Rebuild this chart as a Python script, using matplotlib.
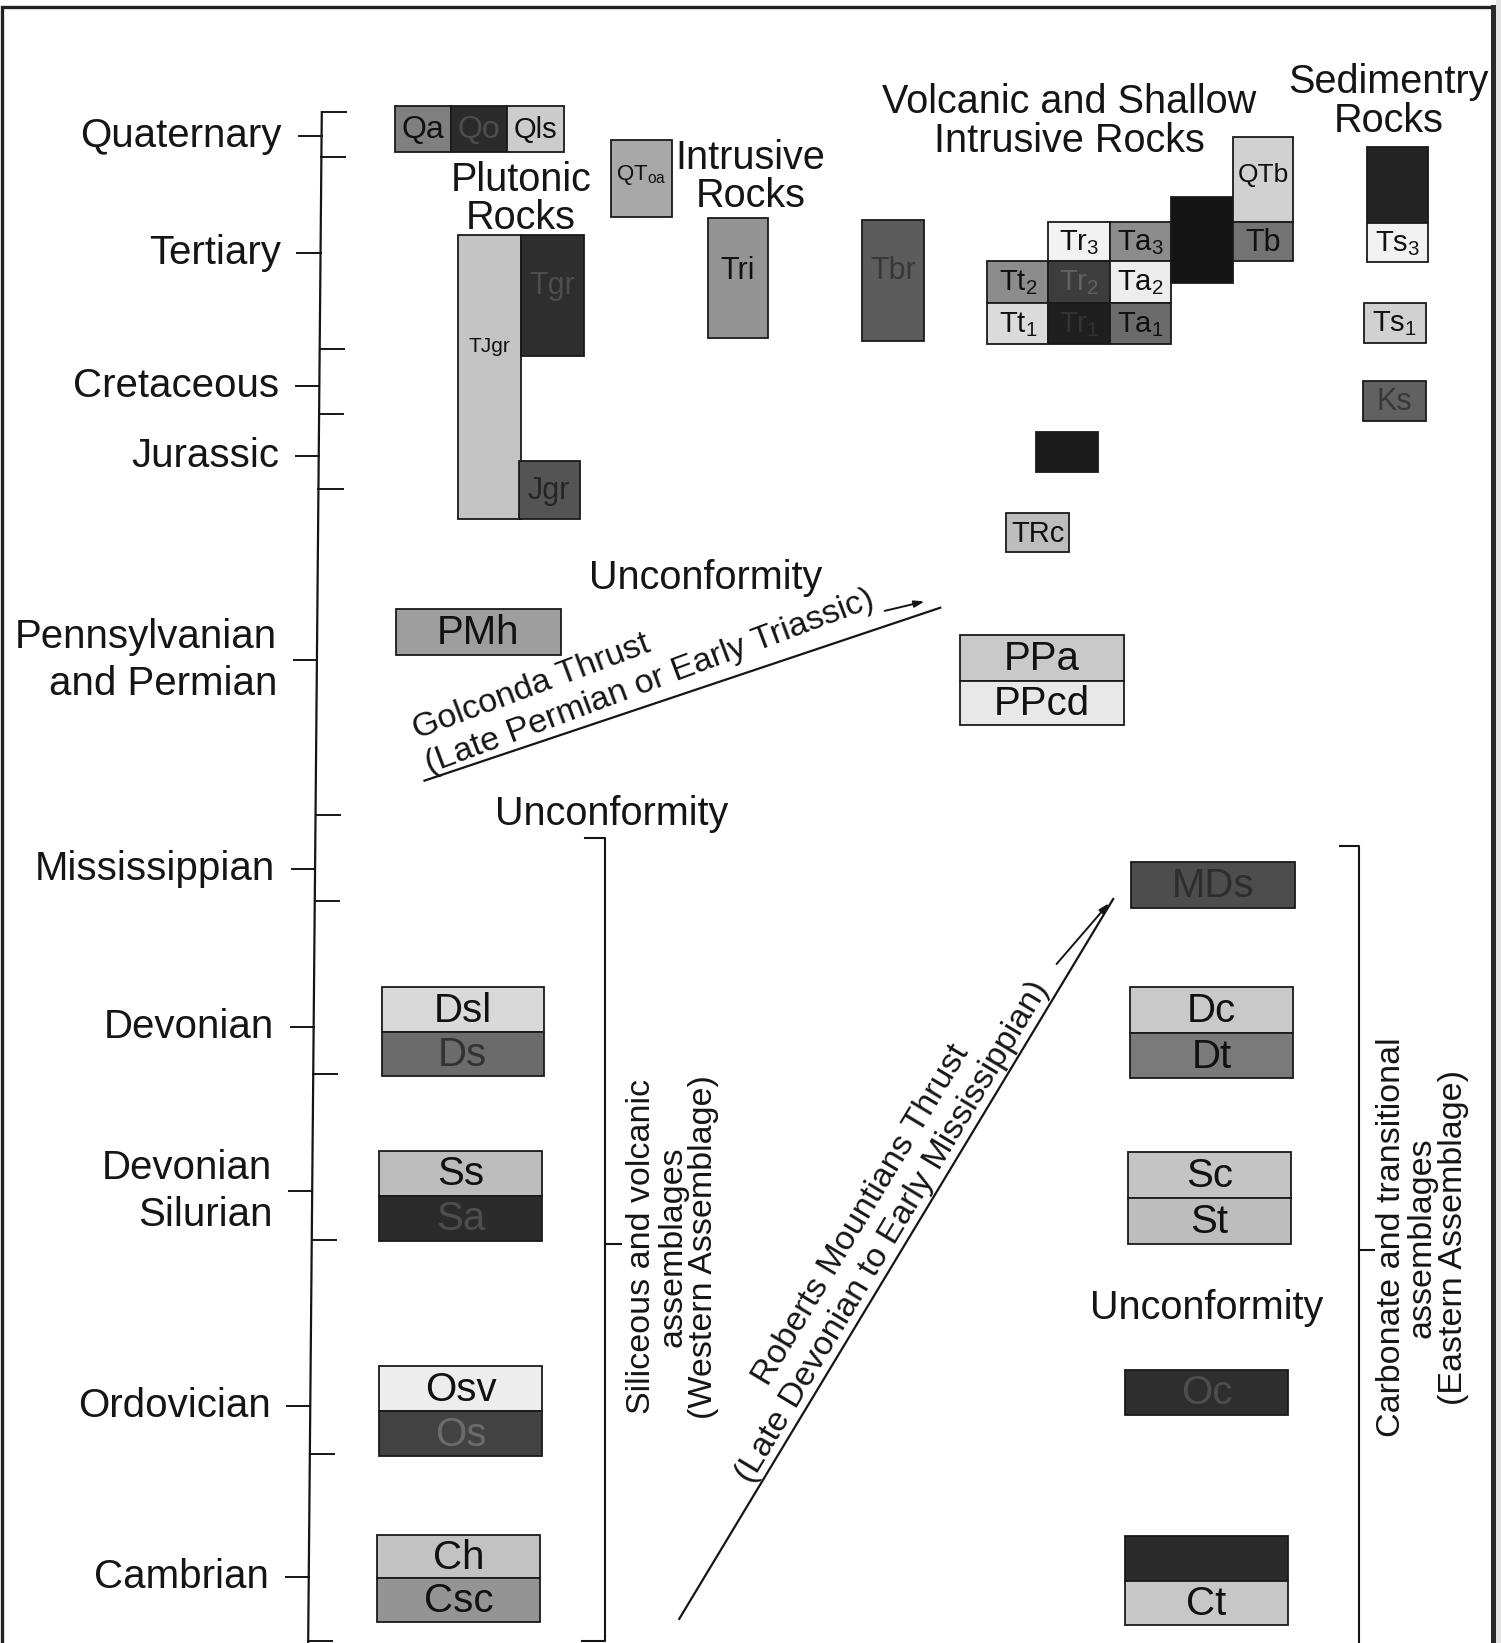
import numpy as np
from matplotlib import pyplot as plt

plt.rcParams['font.family'] = ['Liberation Sans', 'DejaVu Sans']
plt.rcParams['mathtext.fontset'] = 'custom'
plt.rcParams['mathtext.rm'] = 'Liberation Sans'
plt.rcParams['mathtext.it'] = 'Liberation Sans:italic'

# chart space (image units, y grows downward)
W, H = 1432, 1568
INK = '#151515'

# geologic time scale
period_names = ['Quaternary', 'Tertiary', 'Cretaceous', 'Jurassic',
                'Pennsylvanian\nand Permian', 'Mississippian', 'Devonian',
                'Devonian\nSilurian', 'Ordovician', 'Cambrian']
period_pos = [130, 241, 368, 435, 630, 829, 980, 1137, 1342, 1505]
period_bounds = [107, 150, 333, 395, 467, 778, 860, 1025, 1183, 1388, 1566]

# map units: label, left, right, top, base, gray level, font size
unit_labels = ['Qa', 'Qo', 'Qls', r'QT$_{\mathregular{oa}}$', 'TJgr', 'Tgr', 'Jgr',
               'Tri', 'Tbr',
               r'Tr$_{\mathregular{3}}$', r'Ta$_{\mathregular{3}}$', r'Tt$_{\mathregular{2}}$',
               r'Tr$_{\mathregular{2}}$', r'Ta$_{\mathregular{2}}$', r'Tt$_{\mathregular{1}}$',
               r'Tr$_{\mathregular{1}}$', r'Ta$_{\mathregular{1}}$', '', 'QTb', 'Tb',
               '', r'Ts$_{\mathregular{3}}$', r'Ts$_{\mathregular{1}}$', 'Ks', '', 'TRc',
               'PMh', 'PPa', 'PPcd',
               'Dsl', 'Ds', 'Ss', 'Sa', 'Osv', 'Os', 'Ch', 'Csc',
               'MDs', 'Dc', 'Dt', 'Sc', 'St', 'Oc', '', 'Ct']
unit_left = [377, 430, 484, 583, 437, 497, 495, 675, 822,
             1000, 1059, 942, 1000, 1059, 942, 1000, 1059, 1117, 1176, 1176,
             1304, 1304, 1301, 1300, 988, 960,
             378, 916, 916,
             364, 364, 362, 362, 362, 362, 360, 360,
             1079, 1078, 1078, 1076, 1076, 1073, 1073, 1073]
unit_right = [430, 484, 538, 641, 497, 557, 553, 733, 882,
              1059, 1117, 1000, 1059, 1117, 1000, 1059, 1117, 1176, 1234, 1234,
              1362, 1362, 1360, 1360, 1048, 1020,
              535, 1072, 1072,
              519, 519, 517, 517, 517, 517, 515, 515,
              1235, 1234, 1234, 1232, 1232, 1229, 1229, 1229]
unit_top = [101, 101, 101, 134, 224, 224, 440, 208, 210,
            212, 212, 249, 249, 249, 289, 289, 289, 188, 131, 212,
            140, 213, 289, 364, 412, 490,
            581, 606, 650,
            942, 985, 1098, 1141, 1304, 1347, 1465, 1506,
            823, 942, 986, 1099, 1143, 1307, 1466, 1509]
unit_base = [145, 145, 145, 207, 495, 340, 495, 323, 325,
             249, 249, 289, 289, 289, 328, 328, 328, 270, 212, 249,
             213, 250, 327, 402, 450, 527,
             625, 650, 692,
             985, 1027, 1141, 1184, 1347, 1390, 1506, 1548,
             867, 986, 1029, 1143, 1187, 1350, 1509, 1551]
unit_gray = [0.50, 0.17, 0.80, 0.66, 0.77, 0.18, 0.33, 0.58, 0.36,
             0.95, 0.55, 0.55, 0.24, 0.93, 0.86, 0.12, 0.42, 0.08, 0.82, 0.45,
             0.14, 0.95, 0.82, 0.38, 0.10, 0.74,
             0.62, 0.79, 0.91,
             0.85, 0.42, 0.74, 0.17, 0.93, 0.26, 0.76, 0.58,
             0.30, 0.79, 0.48, 0.77, 0.74, 0.18, 0.17, 0.78]
unit_size = [23, 23, 21, 16, 15, 22, 22, 22, 22,
             21, 21, 21, 21, 21, 21, 21, 21, 21, 19, 22,
             21, 21, 21, 22, 21, 21,
             29, 29, 29,
             29, 29, 29, 29, 29, 29, 29, 29,
             29, 29, 29, 29, 29, 29, 29, 29]
unit_label_y = {'TJgr': 330, 'Tgr': 272, 'Tri': 258, 'Tbr': 258,
                'QTb': 166, r'QT$_{\mathregular{oa}}$': 166}
unit_text_gray = {'Qo': 0.30, 'Tgr': 0.30, 'Tbr': 0.22, r'Tr$_{\mathregular{2}}$': 0.38,
                  r'Tr$_{\mathregular{1}}$': 0.20, 'Ks': 0.22, 'Sa': 0.30, 'Os': 0.42,
                  'MDs': 0.18, 'Oc': 0.30, 'Ds': 0.20, 'Jgr': 0.15}

# column headings: text, centre x, centre y
head_text = ['Plutonic\nRocks', 'Intrusive\nRocks', 'Volcanic and Shallow\nIntrusive Rocks',
             'Sedimentry\nRocks']
head_x = [497, 716, 1020, 1325]
head_y = [190, 169, 116, 97]

fig = plt.figure(figsize=(15.01, 16.43), dpi=100)
ax = fig.add_axes([0, 0, 1, 1])
ax.set_xlim(0, W)
ax.set_ylim(H, 0)
ax.set_axis_off()

# page frame
ax.plot([2, 2, 1424, 1424], [H, 7, 7, H], color='#222222', lw=2.4, solid_joinstyle='miter')
ax.plot([1424, 1424], [7, H], color='#2a2a2a', lw=3.6)
ax.axvspan(1427, W, color='#e4e4e4', lw=0)

# time axis (the scan is slightly tilted)
def axis_x(y):
    return 307 - (y - 107) * 13.0 / 1461.0

ax.plot([axis_x(107), axis_x(H)], [107, H], color=INK, lw=1.6)
for yb in period_bounds:
    ax.plot([axis_x(yb), axis_x(yb) + 23], [yb, yb], color=INK, lw=1.4)
for name, yp in zip(period_names, period_pos):
    xa = axis_x(yp)
    ax.plot([xa - 22, xa], [yp, yp], color=INK, lw=1.4)
    ax.text(xa - 38, yp, name, ha='right', va='center', fontsize=29,
            color=INK, linespacing=1.3)

# map unit boxes
centers = [(l + r) / 2 for l, r in zip(unit_left, unit_right)]
widths = [r - l for l, r in zip(unit_left, unit_right)]
heights = [b - t for t, b in zip(unit_top, unit_base)]
ax.bar(centers, heights, width=widths, bottom=unit_top,
       color=[str(g) for g in unit_gray], edgecolor='#1a1a1a', linewidth=1.3, zorder=2)

for lab, xc, t, b, sz in zip(unit_labels, centers, unit_top, unit_base, unit_size):
    if not lab:
        continue
    yc = unit_label_y.get(lab, (t + b) / 2)
    col = str(unit_text_gray[lab]) if lab in unit_text_gray else '#111111'
    ax.text(xc, yc + 1, lab, ha='center', va='center', fontsize=sz, color=col, zorder=3)

# headings
for txt, hx, hy in zip(head_text, head_x, head_y):
    ax.text(hx, hy, txt, ha='center', va='center', fontsize=28.5, color=INK,
            linespacing=1.02)

# unconformities
for ux, uy in [(673, 552), (584, 777), (1151, 1248)]:
    ax.text(ux, uy, 'Unconformity', ha='center', va='center', fontsize=28.5, color=INK)

# Golconda thrust
ax.plot([405, 897], [745, 580], color=INK, lw=1.6)
ax.annotate('', xy=(882, 574), xytext=(844, 583),
            arrowprops=dict(arrowstyle='-|>,head_length=0.6,head_width=0.2', lw=1.4,
                            color=INK, shrinkA=0, shrinkB=0))
ax.text(398, 705, 'Golconda Thrust', rotation=20.5, rotation_mode='anchor',
        ha='left', va='baseline', fontsize=24.5, color=INK)
ax.text(410, 738, '(Late Permian or Early Triassic)', rotation=20.5,
        rotation_mode='anchor', ha='left', va='baseline', fontsize=24.5, color=INK)

# Roberts Mountains thrust
ax.plot([648, 1062], [1545, 858], color=INK, lw=1.6)
ax.annotate('', xy=(1058, 862), xytext=(1008, 920),
            arrowprops=dict(arrowstyle='-|>,head_length=0.6,head_width=0.2', lw=1.4,
                            color=INK, shrinkA=0, shrinkB=0))
ax.text(822, 1160, 'Roberts Mountians Thrust', rotation=59, rotation_mode='anchor',
        ha='center', va='center', fontsize=24.5, color=INK)
ax.text(852, 1176, '(Late Devonian to Early Mississippian)', rotation=59,
        rotation_mode='anchor', ha='center', va='center', fontsize=24.5, color=INK)

# assemblage brackets
ax.plot([558, 577, 577, 555], [800, 800, H - 2, H - 2], color=INK, lw=1.5)
ax.plot([577, 592], [1187, 1187], color=INK, lw=1.5)
ax.text(642, 1190, 'Siliceous and volcanic\nassemblages\n(Western Assemblage)',
        rotation=90, ha='center', va='center', fontsize=24.5, color=INK, linespacing=1.0)

ax.plot([1278, 1297, 1297], [807, 807, H], color=INK, lw=1.5)
ax.plot([1297, 1311], [1193, 1193], color=INK, lw=1.5)
ax.text(1357, 1181, 'Carbonate and transitional\nassemblages\n(Eastern Assemblage)',
        rotation=90, ha='center', va='center', fontsize=24.5, color=INK, linespacing=1.0)

fig.savefig('out.png', dpi=100, facecolor='white')
